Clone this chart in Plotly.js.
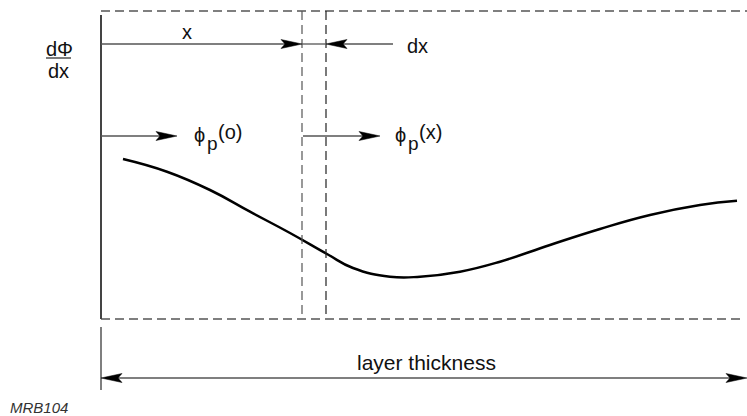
<!DOCTYPE html>
<html>
<head>
<meta charset="utf-8">
<script src="https://cdn.plot.ly/plotly-3.0.1.min.js"></script>
<style>
html,body{margin:0;padding:0;background:#fff;}
#chart{width:747px;height:416px;}
</style>
</head>
<body>
<div id="chart"></div>
<script>
// Curve (position across layer, dPhi/dx level; page-like units, y grows downward)
var curveX = [123, 167, 210, 250, 290, 327, 353, 390, 420, 460, 500, 550, 600, 650, 700, 737];
var curveY = [159, 171.7, 190, 211.7, 233, 254, 268, 276.7, 276.7, 271.7, 261.7, 245, 229, 215, 205, 200.7];

// Text labels
var labelTexts = ['d\u03A6', 'dx', 'x', 'dx', '\u03D5', 'p', '(o)', '(x)', 'layer thickness'];
var footerText = 'MRB104';

// Layout geometry of the diagram
var boxLeft = 101, boxTop = 11, boxBottom = 319, boxRight = 747;
var sliceL = 302, sliceR = 326;
var rowX = 44, rowPhi = 136, rowLayer = 378;

var FONT = 'Liberation Sans, Arial, Helvetica, sans-serif';
var GRAY = '#555555';
var shapes = [];

function line(x0, y0, x1, y1, color, width, dash) {
  shapes.push({type: 'line', xref: 'x', yref: 'y', x0: x0, y0: y0, x1: x1, y1: y1,
    line: {color: color, width: width, dash: dash || 'solid'}});
}
function head(x, y, dir) {
  var L = 21, W = 4.5, N = 17;
  var p = 'M' + x + ',' + y +
    ' L' + (x - dir * L) + ',' + (y - W) +
    ' L' + (x - dir * N) + ',' + y +
    ' L' + (x - dir * L) + ',' + (y + W) + ' Z';
  shapes.push({type: 'path', xref: 'x', yref: 'y', path: p,
    fillcolor: '#000', line: {color: '#000', width: 0.5}});
}

var DASH = '9px,5px';
// dashed box
line(boxLeft, boxTop, boxRight, boxTop, GRAY, 1.3, DASH);
line(boxLeft, boxBottom, 743, boxBottom, GRAY, 1.3, DASH);
line(sliceL, boxTop, sliceL, boxBottom, GRAY, 1.2, DASH);
line(sliceR, boxTop, sliceR, boxBottom, '#222', 1.2, DASH);
// solid left edge
line(boxLeft, 15, boxLeft, boxBottom, '#444', 2);
// x arrow
line(boxLeft, rowX, sliceL - 10, rowX, GRAY, 1.3);
head(sliceL, rowX, 1);
line(sliceL, rowX, sliceR, rowX, GRAY, 1.3);
// dx arrow
line(393, rowX, sliceR + 10, rowX, GRAY, 1.3);
head(sliceR, rowX, -1);
// phi arrows
line(boxLeft, rowPhi, 168, rowPhi, GRAY, 1.3);
head(177, rowPhi, 1);
line(303, rowPhi, 370, rowPhi, GRAY, 1.3);
head(380, rowPhi, 1);
// fraction bar
line(46, 58, 71, 58, '#222', 1.2);
// layer thickness
line(boxLeft, 327, boxLeft, 390, GRAY, 1.5);
line(boxLeft + 10, rowLayer, boxRight - 10, rowLayer, GRAY, 1.5);
head(boxLeft, rowLayer, -1);
head(boxRight, rowLayer, 1);

function ann(text, x, y, size, xanchor) {
  return {text: text, x: x, y: y, xref: 'x', yref: 'y', showarrow: false,
    xanchor: xanchor || 'center', yanchor: 'middle',
    font: {family: FONT, size: size, color: '#111'}};
}

var annotations = [
  ann(labelTexts[0], 59, 49, 20),
  ann(labelTexts[1], 58, 71, 20),
  ann(labelTexts[2], 187, 32, 20),
  ann(labelTexts[3], 417, 46, 20),
  // phi_p(o)
  ann(labelTexts[4], 192, 135, 20, 'left'),
  ann(labelTexts[5], 205, 143, 19, 'left'),
  ann(labelTexts[6], 216, 132, 20, 'left'),
  // phi_p(x)
  ann(labelTexts[4], 393, 135, 20, 'left'),
  ann(labelTexts[5], 406, 143, 19, 'left'),
  ann(labelTexts[7], 417, 132, 20, 'left'),
  ann(labelTexts[8], 426, 362, 21),
  {text: '<i>' + footerText + '</i>', x: 8, y: 407, xref: 'x', yref: 'y', showarrow: false,
    xanchor: 'left', yanchor: 'middle', font: {family: FONT, size: 15, color: '#333'}}
];

var trace = {
  x: curveX, y: curveY, type: 'scatter', mode: 'lines',
  line: {color: '#000', width: 2.5, shape: 'spline', smoothing: 1.3},
  hoverinfo: 'skip', showlegend: false
};

var layout = {
  width: 747, height: 416,
  margin: {l: 0, r: 0, t: 0, b: 0},
  paper_bgcolor: '#fff', plot_bgcolor: '#fff',
  xaxis: {range: [0, 747], visible: false, fixedrange: true},
  yaxis: {range: [416, 0], visible: false, fixedrange: true},
  shapes: shapes,
  annotations: annotations,
  showlegend: false
};

Plotly.newPlot('chart', [trace], layout, {displayModeBar: false, staticPlot: true});
</script>
</body>
</html>
